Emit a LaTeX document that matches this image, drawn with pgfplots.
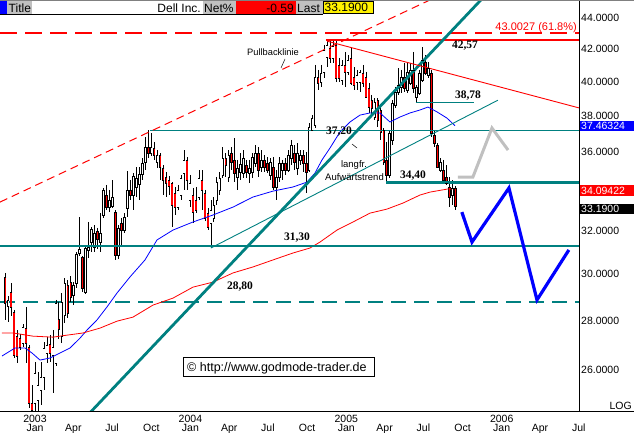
\documentclass[border=0pt]{standalone}
\usepackage{pgfplots}
\pgfplotsset{compat=1.18}
\usepackage{pgfplotstable}
\usepackage{fontspec}
\setmainfont{Liberation Sans}
\newfontfamily\tnr{Liberation Serif}
\newcommand{\fs}[1]{\fontsize{#1}{#1}\selectfont}
\definecolor{tl}{RGB}{0,128,128}
\definecolor{lg}{RGB}{192,192,192}
\definecolor{fc}{RGB}{192,192,192}

\pgfplotstableread{
w o h l c
-9 28.61 29.04 27.93 28.87
-4 27.07 27.85 26.91 27.72
0 24.75 26.31 24.45 25.88
1 24.86 25.92 24.45 25.42
2 25.23 26.31 24.67 25.73
3 25.73 27.11 25.23 26.87
4 26.67 27.31 26.27 26.99
6 26.59 27.60 25.12 26.91
7 26.27 28.87 26.16 28.74
9 27.35 29.17 27.07 28.78
10 28.23 29.83 27.89 29.61
13 29.08 29.65 28.65 29.52
14 29.61 31.01 29.39 30.92
15 30.97 32.68 30.83 31.15
17 29.21 31.29 29.13 31.20
18 31.11 32.44 30.74 31.25
19 31.48 32.19 31.01 32.10
20 31.25 32.29 31.01 31.91
22 31.48 32.87 31.01 31.91
23 32.78 34.13 32.63 34.03
25 33.17 34.03 32.92 33.52
26 33.22 34.54 33.12 33.67
28 30.88 32.29 30.69 32.15
30 32.05 32.87 31.91 32.68
31 33.12 35.00 32.68 34.03
33 33.77 34.90 33.02 34.74
34 34.18 35.21 33.67 34.64
35 34.33 35.21 33.52 34.85
36 34.85 35.69 34.54 35.43
37 35.48 36.83 35.06 36.28
39 35.96 37.05 35.80 36.28
41 35.48 36.12 35.16 35.85
48 33.17 34.28 33.02 34.03
49 33.77 34.80 33.52 34.64
50 34.90 36.12 34.03 35.59
52 33.52 34.80 33.17 34.38
55 33.67 35.06 33.52 34.64
59 32.39 33.52 31.20 33.02
60 32.63 33.67 32.44 33.27
61 33.52 34.69 33.27 34.43
62 34.03 34.95 33.77 34.64
63 34.80 36.28 34.64 35.69
65 34.69 36.12 34.43 35.85
68 34.69 35.59 34.03 35.16
69 34.95 35.96 34.54 35.37
70 34.90 36.12 34.64 35.69
72 34.90 35.59 34.38 35.16
73 34.95 35.96 34.64 35.74
74 35.43 36.39 35.21 35.96
76 35.21 36.12 34.95 35.59
79 34.80 35.69 34.54 35.48
81 34.18 35.06 33.52 34.69
82 34.69 35.74 34.43 35.43
83 35.06 35.59 34.54 35.43
85 35.06 36.12 34.95 35.85
86 35.69 36.67 35.32 36.39
88 35.16 36.50 34.80 35.96
89 35.59 36.12 35.32 35.85
92 35.06 37.61 34.95 37.38
93 37.22 38.06 37.16 37.89
94 37.50 41.02 37.33 40.29
96 39.99 41.02 39.69 40.53
97 40.59 42.26 40.23 41.95
98 41.51 42.57 40.89 42.26
100 41.45 42.57 41.14 42.20
103 40.11 41.32 39.81 41.02
105 40.59 41.63 40.41 41.32
108 39.99 40.71 39.51 40.41
109 39.99 40.71 39.40 40.59
114 37.95 39.04 37.78 38.81
119 34.80 37.22 34.64 37.05
120 36.67 38.92 36.39 38.75
121 38.63 39.69 38.46 39.40
122 39.40 40.83 39.22 39.81
123 39.69 40.71 39.34 40.29
125 39.51 41.20 39.34 40.59
126 39.93 41.14 39.81 40.71
128 39.10 39.81 38.78 39.69
129 39.34 40.71 39.22 40.53
130 40.11 42.13 39.99 41.32
132 40.41 41.20 40.23 40.83
136 35.06 35.69 34.95 35.48
140 33.77 34.54 33.27 34.13
}\up

\pgfplotstableread{
w o h l c
-10 29.88 30.06 28.02 28.74
-8 29.21 29.61 28.18 28.57
-7 28.35 28.44 26.47 26.59
-6 27.35 27.60 26.27 26.55
-5 27.27 27.44 26.79 26.91
-3 27.68 28.57 26.27 27.07
-2 26.91 26.99 24.56 24.75
-1 24.75 25.42 24.45 24.49
5 27.03 27.40 26.31 26.67
8 28.06 28.78 27.23 27.64
11 29.52 29.74 28.10 28.31
12 29.65 29.92 28.78 29.00
16 30.78 30.83 29.21 29.39
21 32.00 32.15 31.15 31.62
24 33.77 34.28 33.02 33.17
27 32.92 33.02 30.65 30.88
29 32.39 32.63 31.25 32.05
32 34.03 34.54 33.52 33.77
38 36.28 37.20 35.69 35.96
40 36.23 36.56 35.59 35.85
42 35.85 35.96 34.54 35.21
43 35.16 35.32 33.77 34.54
44 34.69 34.95 33.67 34.38
45 34.54 34.74 33.77 34.23
46 34.38 34.43 32.19 33.27
47 33.87 34.18 32.78 33.17
51 35.59 35.74 34.03 34.54
53 33.77 34.13 32.39 32.92
54 33.52 34.18 32.87 33.02
56 34.54 35.06 33.02 34.03
57 33.87 34.03 32.48 32.63
58 32.87 33.12 32.05 32.19
64 35.69 35.96 34.69 35.32
66 35.96 36.28 35.06 35.48
67 35.59 36.77 34.43 34.90
71 35.32 35.59 34.64 34.95
75 35.96 36.28 34.69 35.06
77 35.59 35.85 34.95 35.21
78 35.43 35.74 34.90 35.06
80 35.21 35.74 34.03 34.18
84 35.43 35.69 34.80 35.06
87 35.96 36.39 35.06 35.48
90 35.85 36.12 34.95 35.43
91 35.43 36.01 33.87 34.95
95 40.29 40.71 39.51 39.93
99 42.07 42.51 41.14 41.45
101 42.26 42.51 39.99 40.23
102 41.02 41.45 39.99 40.23
104 41.02 41.82 39.69 40.59
106 41.45 42.07 39.81 39.93
107 40.29 40.89 39.51 39.81
110 40.53 41.02 39.69 39.93
111 40.29 40.59 39.04 39.10
112 39.63 39.93 38.18 38.52
113 38.92 39.22 38.06 38.46
115 38.92 39.04 37.38 37.78
116 38.35 38.63 36.67 37.11
117 37.22 37.33 35.32 35.48
118 35.59 36.56 34.40 34.80
124 40.29 41.14 39.40 39.63
127 40.71 41.82 39.34 39.63
131 41.20 41.63 40.41 40.53
133 40.53 40.71 36.83 37.05
134 36.94 37.22 36.28 36.50
135 36.39 36.50 35.16 35.21
137 35.06 35.59 34.43 34.54
138 34.69 35.32 34.28 34.38
139 34.18 34.69 33.17 33.67
141 34.13 34.23 33.02 33.19
}\dn

\begin{document}
\begin{tikzpicture}
\begin{axis}[
  scale only axis, width=579pt, height=412pt,
  at={(0pt,0pt)}, anchor=south west,
  xmin=-11.74, xmax=182.5,
  ymode=log, ymin=24.42, ymax=45.2,
  axis line style={draw=none},
  major tick length=0pt, minor tick length=0pt,
  xtick={0,12.86,25.86,39.0,52.14,65.14,78.14,91.29,104.43,117.29,130.29,143.43,156.57,169.43,182.43},
  xticklabels={Jan,Apr,Jul,Oct,Jan,Apr,Jul,Oct,Jan,Apr,Jul,Oct,Jan,Apr,Jul},
  xticklabel style={anchor=base, yshift=-20pt, inner sep=0pt, font=\fs{10.5}},
  extra x ticks={0,52.14,104.43,156.57},
  extra x tick labels={2003,2004,2005,2006},
  extra x tick style={xticklabel style={yshift=9pt}},
  ytick={26,28,30,32,36,38,40,42,44},
  yticklabels={26.0000,28.0000,30.0000,32.0000,36.0000,38.0000,40.0000,42.0000,44.0000},
  yticklabel pos=right,
  yticklabel style={anchor=west, inner sep=0pt, xshift=2pt, font=\fs{10.5}},
]
% dashed levels drawn first (under everything)
\addplot[draw=tl, line width=2pt, dash pattern=on 15pt off 8pt] coordinates {(-11.74,28.80) (182.5,28.80)};
\addplot[draw=red, line width=1.8pt, dash pattern=on 17pt off 8pt] coordinates {(-11.74,43.0027) (182.5,43.0027)};
% wicks
\addplot[draw=none, forget plot, error bars/.cd, y dir=minus, y explicit, error mark=none,
  error bar style={draw=black, solid, line width=0.7pt}]
  table[x=w, y=h, y error minus expr=\thisrow{h}-\thisrow{l}] {\up};
\addplot[draw=none, forget plot, error bars/.cd, y dir=minus, y explicit, error mark=none,
  error bar style={draw=black, solid, line width=0.7pt}]
  table[x=w, y=h, y error minus expr=\thisrow{h}-\thisrow{l}] {\dn};
% bodies outline
\addplot[draw=none, forget plot, error bars/.cd, y dir=minus, y explicit, error mark=none,
  error bar style={draw=black, solid, line width=2.5pt}]
  table[x=w, y=c, y error minus expr=\thisrow{c}-\thisrow{o}] {\up};
\addplot[draw=none, forget plot, error bars/.cd, y dir=minus, y explicit, error mark=none,
  error bar style={draw=black, solid, line width=2.5pt}]
  table[x=w, y=o, y error minus expr=\thisrow{o}-\thisrow{c}] {\dn};
% bodies fill
\addplot[draw=none, forget plot, error bars/.cd, y dir=minus, y explicit, error mark=none,
  error bar style={draw=white, solid, line width=1.3pt}]
  table[x=w, y=c, y error minus expr=\thisrow{c}-\thisrow{o}] {\up};
\addplot[draw=none, forget plot, error bars/.cd, y dir=minus, y explicit, error mark=none,
  error bar style={draw=red, solid, line width=1.3pt}]
  table[x=w, y=o, y error minus expr=\thisrow{o}-\thisrow{c}] {\dn};
% caps
\addplot[only marks, mark=-, mark size=1.25pt, mark options={draw=black, line width=0.6pt}] table[x=w, y=o] {\up};
\addplot[only marks, mark=-, mark size=1.25pt, mark options={draw=black, line width=0.6pt}] table[x=w, y=c] {\up};
\addplot[only marks, mark=-, mark size=1.25pt, mark options={draw=black, line width=0.6pt}] table[x=w, y=o] {\dn};
\addplot[only marks, mark=-, mark size=1.25pt, mark options={draw=black, line width=0.6pt}] table[x=w, y=c] {\dn};

% moving averages
\addplot[draw=blue, line width=0.8pt] coordinates {(-11.07,26.55) (-6.71,26.87) (-3.35,26.87) (-1.01,26.67) (1.68,26.39) (5.03,26.47) (7.72,26.63) (11.74,26.87) (15.10,27.27) (17.44,27.60) (20.80,28.02) (24.15,28.57) (27.51,29.17) (31.87,29.88) (36.90,30.65) (40.93,31.58) (46.29,32.05) (53.00,32.44) (59.71,32.78) (66.42,33.17) (73.13,33.67) (79.84,33.97) (86.55,34.18) (91.24,34.43) (93.93,34.90) (96.28,35.59) (98.96,36.23) (102.31,37.11) (105.67,37.67) (109.02,38.06) (112.38,38.18) (115.73,38.18) (119.09,37.67) (122.44,37.95) (125.80,38.18) (129.15,38.35) (131.83,38.52) (134.85,38.24) (138.21,37.89) (140.9,37.46)};
\addplot[draw=red, line width=0.8pt] coordinates {(-11.07,27.48) (-7.38,27.48) (-0.67,27.35) (6.04,27.31) (10.73,27.39) (16.10,27.48) (21.80,27.68) (27.51,27.97) (32.87,28.14) (39.58,28.65) (46.29,28.95) (53.00,29.43) (59.71,29.65) (66.42,30.06) (73.13,30.33) (79.84,30.65) (86.55,30.97) (92.25,31.20) (95.61,31.48) (101.31,32.05) (106.68,32.44) (112.38,32.87) (118.08,33.07) (123.45,33.37) (129.15,33.77) (132.51,33.92) (138.54,34.08) (140.9,34.09)};

% horizontal levels
\addplot[draw=tl, line width=2.7pt] coordinates {(-11.74,31.30) (182.5,31.30)};
\addplot[draw=tl, line width=0.9pt] coordinates {(38.6,37.20) (182.5,37.20)};
\addplot[draw=tl, line width=2.5pt] coordinates {(117.7,34.40) (182.5,34.40)};
\addplot[draw=tl, line width=1.2pt] coordinates {(127.8,38.78) (147.3,38.78)};
\addplot[draw=red, line width=2.4pt] coordinates {(97.6,42.57) (182.5,42.57)};
% trend lines
\addplot[draw=tl, line width=2.8pt] coordinates {(15,24.0) (153,45.93)};
\addplot[draw=tl, line width=0.9pt] coordinates {(59,31.2) (155.3,38.92)};
\addplot[draw=red, line width=0.9pt] coordinates {(98,42.5) (182.8,38.46)};
\addplot[draw=red, line width=1pt, dash pattern=on 8pt off 5pt] coordinates {(-11.74,33.42) (132.5,45.2)};
% forecasts
\addplot[draw=fc, line width=3pt] coordinates {(141.9,34.69) (146.9,34.69) (153.3,37.33) (158.7,36.12)};
\addplot[draw=blue, line width=3.2pt] coordinates {(143.2,32.92) (146.6,31.48) (159.0,34.13) (168.4,28.87) (179.1,31.11)};
\end{axis}
\pgfresetboundingbox
\path[use as bounding box] (0pt,-21pt) rectangle (634pt,412pt);
\begin{scope}[x=1pt,y=-1pt,shift={(0pt,412pt)}]
% frame lines
\draw[black, line width=1pt] (0,412) -- (634,412);
\draw[black, line width=1pt] (579,0) -- (579,412);
\draw[gray, line width=1pt] (0,0.5) -- (634,0.5);
% title bar
\fill[blue] (0,1) rectangle (7,14);
\fill[lg] (7,1) rectangle (32,14);
\node[anchor=base west, inner sep=0pt, font=\fs{12}] at (8.5,12.3) {Title};
\fill[white] (32,1) rectangle (203,14);
\node[anchor=base east, inner sep=0pt, font=\fs{12}] at (201,12.3) {Dell Inc.};
\fill[lg] (203,1) rectangle (236,14);
\node[anchor=base west, inner sep=0pt, font=\fs{12}] at (204,12.3) {Net\%};
\fill[red] (236,1) rectangle (296,14);
\node[anchor=base east, inner sep=0pt, font=\fs{12}] at (294,12.3) {-0.59};
\fill[lg] (296,1) rectangle (323,14);
\node[anchor=base west, inner sep=0pt, font=\fs{12}] at (297,12.3) {Last};
\filldraw[fill=yellow, draw=black, line width=0.6pt] (323,1) rectangle (373,13);
\node[anchor=base west, inner sep=0pt, font=\fs{12}] at (324.5,12) {33.1900};
\draw[black, line width=1pt] (0,14.5) -- (323,14.5);
% right value boxes
\fill[blue] (579.5,120.7) rectangle (634,130.7);
\node[anchor=west, inner sep=0pt, text=white, font=\fs{10.5}] at (581,125.9) {37.46324};
\fill[red] (579.5,185) rectangle (634,196);
\node[anchor=west, inner sep=0pt, text=white, font=\fs{10.5}] at (581,190.7) {34.09422};
\fill[black] (579.5,204) rectangle (634,214);
\node[anchor=west, inner sep=0pt, text=white, font=\fs{10.5}] at (581,209.2) {33.1900};
\node[anchor=base east, inner sep=0pt, font=\fs{10.5}] at (632,410) {LOG};
% annotations
\node[anchor=base east, inner sep=0pt, text=red, font=\fs{11}] at (577,31) {43.0027 (61.8\%)};
\node[inner sep=0pt, font=\tnr\bfseries\fs{11.5}] at (465,45.5) {42,57};
\node[inner sep=0pt, font=\tnr\bfseries\fs{11.5}] at (468,96) {38,78};
\node[inner sep=0pt, font=\tnr\bfseries\fs{11.5}] at (339,132) {37,20};
\node[inner sep=0pt, font=\tnr\bfseries\fs{11.5}] at (413,176) {34,40};
\node[inner sep=0pt, font=\tnr\bfseries\fs{11.5}] at (297,238) {31,30};
\node[inner sep=0pt, font=\tnr\bfseries\fs{11.5}] at (240,286.5) {28,80};
\node[inner sep=0pt, font=\fs{9.3}] at (273,52) {Pullbacklinie};
\draw[black, line width=0.5pt] (285,59) -- (281,68);
\node[inner sep=0pt, font=\fs{9.5}] at (354,165) {langfr.};
\node[inner sep=0pt, font=\fs{9.5}] at (354.5,177) {Aufwärtstrend};
\draw[black, line width=0.5pt] (352,144) -- (357,148);
% copyright box
\filldraw[fill=white, draw=black, line width=1pt] (183,358) rectangle (374,377);
\node[anchor=base west, inner sep=0pt, font=\fs{12.5}] at (187,372) {\textcopyright\ http://www.godmode-trader.de};
\end{scope}
\end{tikzpicture}
\end{document}
